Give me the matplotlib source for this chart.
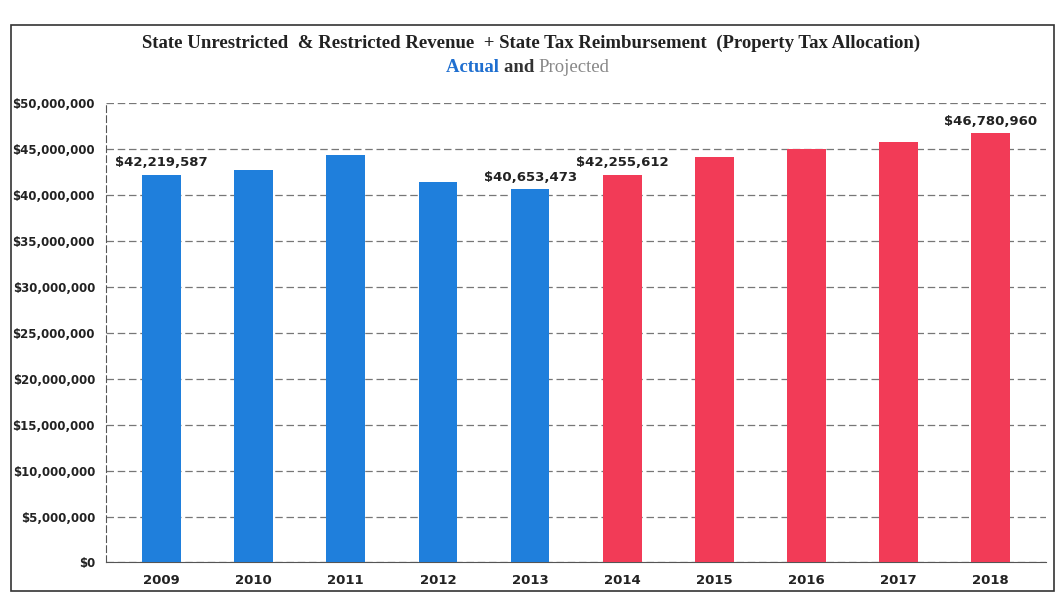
import matplotlib
matplotlib.use("Agg")
import matplotlib.pyplot as plt
from matplotlib.patches import Rectangle
from matplotlib.ticker import FuncFormatter

years = ["2009", "2010", "2011", "2012", "2013", "2014", "2015", "2016", "2017", "2018"]
values = [42219587, 42800000, 44400000, 41400000, 40653473,
          42255612, 44200000, 45000000, 45800000, 46780960]
kinds = ["Actual"] * 5 + ["Projected"] * 5
labeled = {"2009", "2013", "2014", "2018"}
colors = {"Actual": "#1F7FDC", "Projected": "#F23B57"}

fig = plt.figure(figsize=(10.62, 6.16), dpi=100)
ax = fig.add_axes([0.10, 0.087, 0.885, 0.745])

x = list(range(len(years)))
ax.bar(x, values, width=0.42, color=[colors[k] for k in kinds], zorder=3)
for xi, v, y in zip(x, values, years):
    if y in labeled:
        ax.text(xi, v + 600000, f"${v:,.0f}", ha="center", va="bottom",
                fontsize=9.5, fontweight="bold", color="#222222")

ax.set_ylim(0, 50000000)
ax.set_xlim(-0.6, 9.6)
ax.set_yticks(range(0, 50000001, 5000000))
ax.yaxis.set_major_formatter(FuncFormatter(lambda v, p: f"${v:,.0f}"))
ax.set_xticks(x)
ax.set_xticklabels(years)
for lab in ax.get_xticklabels():
    lab.set_fontweight("bold")
    lab.set_fontsize(9.5)
    lab.set_color("#222222")
for lab in ax.get_yticklabels():
    lab.set_fontweight("bold")
    lab.set_fontsize(8.5)
    lab.set_color("#222222")
ax.tick_params(length=0, pad=8)
ax.grid(axis="y", linestyle=(0, (6, 3)), color="#777777", linewidth=0.9, zorder=0)
for s in ["top", "right"]:
    ax.spines[s].set_visible(False)
ax.spines["left"].set_linestyle((0, (6, 3)))
ax.spines["left"].set_color("#555555")
ax.spines["bottom"].set_color("#555555")

fig.patches.append(Rectangle((0.01, 0.04), 0.982, 0.92, transform=fig.transFigure,
                             fill=False, edgecolor="#333333", linewidth=1.2))

fig.text(0.5, 0.93, "State Unrestricted  & Restricted Revenue  + State Tax Reimbursement  (Property Tax Allocation)",
         ha="center", va="center", fontsize=13.5, fontweight="bold",
         family="Liberation Serif", color="#222222")
t1 = fig.text(0.42, 0.89, "Actual ", ha="left", va="center", fontsize=13.5,
              fontweight="bold", family="Liberation Serif", color="#1F6FD0")
t2 = ax.annotate("and ", xy=(1, 0), xycoords=t1, ha="left", va="bottom",
                 fontsize=13.5, fontweight="bold", family="Liberation Serif", color="#333333",
                 annotation_clip=False)
t3 = ax.annotate("Projected", xy=(1, 0), xycoords=t2, ha="left", va="bottom",
                 fontsize=13.5, family="Liberation Serif", color="#888888",
                 annotation_clip=False)

fig.savefig("out.png", dpi=100)
